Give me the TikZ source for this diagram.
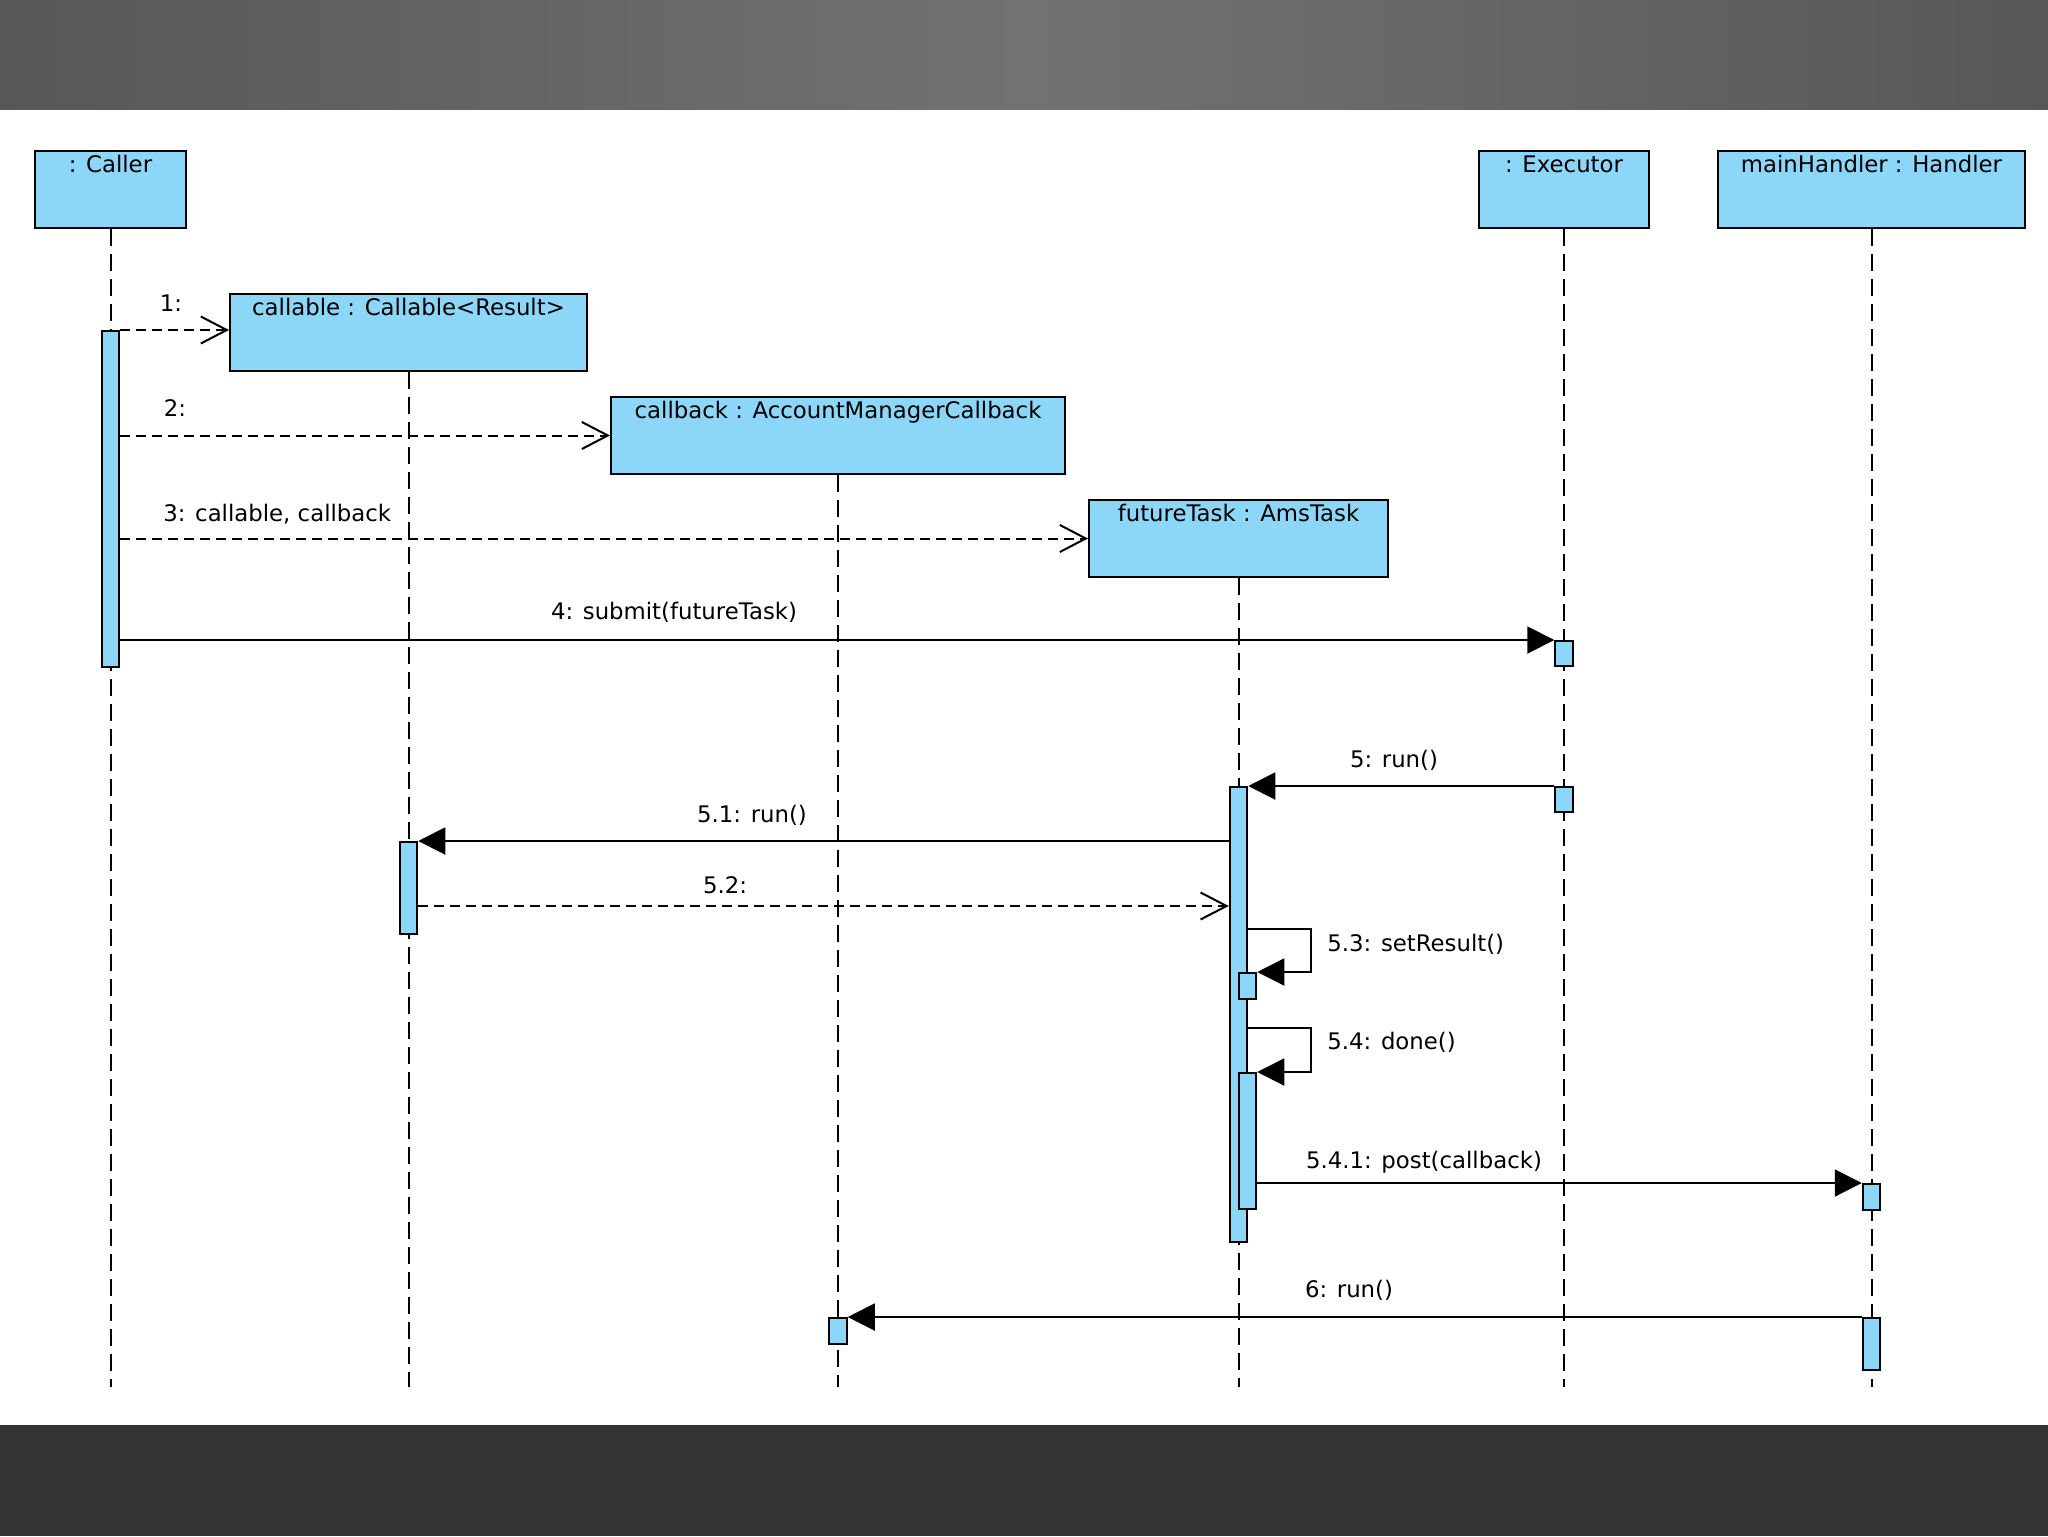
\documentclass[tikz,border=0pt]{standalone}
\usepackage{fontspec}
\setmainfont{DejaVu Sans}
\usetikzlibrary{arrows.meta}
\definecolor{objblue}{HTML}{8CD6F7}
\definecolor{bandmid}{HTML}{727272}
\definecolor{bandedge}{HTML}{575757}
\definecolor{bandlow}{HTML}{333234}
\tikzset{
  txt/.style={font=\fontsize{11.4pt}{13pt}\selectfont, inner sep=0pt},
  obj/.style={draw=black, line width=1pt, fill=objblue, anchor=north west, inner sep=0pt, minimum height=38.5pt},
  act/.style={draw=black, line width=1pt, fill=objblue, anchor=north, inner sep=0pt, minimum width=8.75pt},
  lifeline/.style={draw=black, line width=1pt, dash pattern=on 8.5pt off 4pt},
  async/.style={draw=black, line width=1pt, dash pattern=on 5pt off 3pt, -{Straight Barb[length=13pt,width=13.5pt,line width=1pt]}},
  sync/.style={draw=black, line width=1pt, -{Triangle[length=13.5pt,width=13.5pt]}}
}
\begin{document}
\begin{tikzpicture}[x=0.5pt,y=-0.5pt]
\useasboundingbox (0,0) rectangle (2048,1536);
\fill[white] (0,0) rectangle (2048,1536);
\shade[left color=bandedge, right color=bandedge, middle color=bandmid] (0,0) rectangle (2048,110);
\fill[bandlow] (0,1425) rectangle (2048,1536);

% object boxes
\node[obj, minimum width=75.5pt] (caller) at (34,150) {};
\node[obj, minimum width=178.5pt] (callable) at (229,293) {};
\node[obj, minimum width=227pt] (callback) at (610,396) {};
\node[obj, minimum width=149.5pt] (future) at (1088,499) {};
\node[obj, minimum width=85pt] (executor) at (1478,150) {};
\node[obj, minimum width=153.5pt] (handler) at (1717,150) {};

\node[txt, anchor=base] (tcaller) at ([yshift=-11pt]caller.north) {: Caller};
\node[txt, anchor=base] (tcallable) at ([yshift=-11pt]callable.north) {callable : Callable<Result>};
\node[txt, anchor=base] (tcallback) at ([yshift=-11pt]callback.north) {callback : AccountManagerCallback};
\node[txt, anchor=base] (tfuture) at ([yshift=-11pt]future.north) {futureTask : AmsTask};
\node[txt, anchor=base] (texecutor) at ([yshift=-11pt]executor.north) {: Executor};
\node[txt, anchor=base] (thandler) at ([yshift=-11pt]handler.north) {mainHandler : Handler};

% lifelines
\coordinate (llend) at (0,1387);
\draw[lifeline] (caller.south) -- (caller.south |- llend);
\draw[lifeline] (callable.south) -- (callable.south |- llend);
\draw[lifeline] (callback.south) -- (callback.south |- llend);
\draw[lifeline] (future.south) -- (future.south |- llend);
\draw[lifeline] (executor.south) -- (executor.south |- llend);
\draw[lifeline] (handler.south) -- (handler.south |- llend);

% activations
\node[act, minimum height=168pt] (cact) at (caller.south |- 0,330) {};
\node[act, minimum height=12.5pt] (eact1) at (executor.south |- 0,640) {};
\node[act, minimum height=12.5pt] (eact2) at (executor.south |- 0,786) {};
\node[act, minimum height=227.5pt] (fact) at (future.south |- 0,786) {};
\node[act, minimum height=46pt] (kact) at (callable.south |- 0,841) {};
\node[act, minimum height=13pt] (nact1) at ([xshift=4.5pt]future.south |- 0,972) {};
\node[act, minimum height=68pt] (nact2) at ([xshift=4.5pt]future.south |- 0,1072) {};
\node[act, minimum height=13pt] (hact1) at (handler.south |- 0,1183) {};
\node[act, minimum height=26pt] (hact2) at (handler.south |- 0,1317) {};
\node[act, minimum height=13pt] (bact) at (callback.south |- 0,1317) {};

% messages
\draw[async] (cact.north east) -- (callable.west |- cact.north east);
\draw[async] (cact.east |- callback.west) -- (callback.west);
\draw[async] (cact.east |- future.west) -- (future.west);
\draw[sync] (cact.east |- eact1.north) -- (eact1.north west);
\draw[sync] (eact2.north west) -- (fact.north east);
\draw[sync] (fact.west |- kact.north) -- (kact.north east);
\coordinate (r52) at (0,906);
\draw[async] (kact.east |- r52) -- (fact.west |- r52);
\coordinate (s53) at (1311,929);
\draw[sync] (fact.east |- s53) -- (s53) |- (nact1.north east);
\coordinate (s54) at (1311,1028);
\draw[sync] (fact.east |- s54) -- (s54) |- (nact2.north east);
\draw[sync] (nact2.east |- hact1.north) -- (hact1.north west);
\draw[sync] (hact2.north west) -- (bact.north east);

% message labels
\node[txt, anchor=base] (l1) at (171,311) {1:};
\node[txt, anchor=base] (l2) at (175,416) {2:};
\node[txt, anchor=base west] (l3) at (163,521) {3: callable, callback};
\node[txt, anchor=base] (l4) at (674,619) {4: submit(futureTask)};
\node[txt, anchor=base] (l5) at (1394,767) {5: run()};
\node[txt, anchor=base] (l51) at (752,822) {5.1: run()};
\node[txt, anchor=base] (l52) at (725,893) {5.2:};
\node[txt, anchor=base west] (l53) at (1327,951) {5.3: setResult()};
\node[txt, anchor=base west] (l54) at (1327,1049) {5.4: done()};
\node[txt, anchor=base] (l541) at (1424,1168) {5.4.1: post(callback)};
\node[txt, anchor=base] (l6) at (1349,1297) {6: run()};
\end{tikzpicture}
\end{document}
